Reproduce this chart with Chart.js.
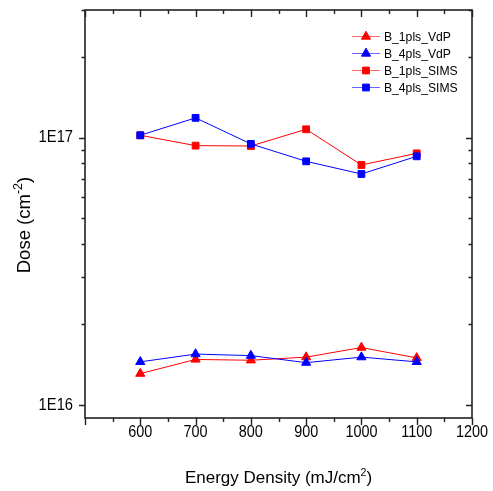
<!DOCTYPE html>
<html>
<head>
<meta charset="utf-8">
<script src="https://cdn.jsdelivr.net/npm/chart.js@4.4.1/dist/chart.umd.min.js"></script>
<style>
  html, body { margin: 0; padding: 0; background: #fff; }
</style>
</head>
<body>
<canvas id="doseChart" width="493" height="491"></canvas>
<script>
// data
const energy = [600, 700, 800, 900, 1000, 1100];
const vdp1pls = [1.31e16, 1.48e16, 1.47e16, 1.51e16, 1.64e16, 1.50e16];
const vdp4pls = [1.45e16, 1.55e16, 1.53e16, 1.44e16, 1.51e16, 1.45e16];
const sims1pls = [1.02e17, 0.933e17, 0.93e17, 1.074e17, 0.79e17, 0.873e17];
const sims4pls = [1.02e17, 1.185e17, 0.947e17, 0.815e17, 0.731e17, 0.851e17];

const xTicks = [500, 550, 600, 650, 700, 750, 800, 850, 900, 950, 1000, 1050, 1100, 1150, 1200];
const xLabels = [600, 700, 800, 900, 1000, 1100, 1200];
const yTicks = [1e16, 2e16, 3e16, 4e16, 5e16, 6e16, 7e16, 8e16, 9e16, 1e17, 2e17, 3e17];
const yMajor = [1e16, 1e17];
const yLabels = ["1E16", "1E17"];

const FONT = "'Liberation Sans', Arial, sans-serif";
const RED = "#ff0000";
const BLUE = "#0000ff";

function toPoints(vals) {
    return energy.map((e, i) => ({ x: e, y: vals[i] }));
}

function makeSet(label, vals, color, style, order) {
    return {
        label: label,
        data: toPoints(vals),
        borderColor: color,
        backgroundColor: color,
        borderWidth: 1,
        pointStyle: style,
        pointRadius: style === "triangle" ? 5.3 : 4.8,
        pointBorderWidth: 1,
        pointBorderColor: color,
        pointBackgroundColor: color,
        tension: 0,
        order: order
    };
}

// text squeezed a little horizontally, like the original export
function condText(ctx, text, x, y, size, sx, align, baseline) {
    ctx.save();
    ctx.font = size + "px " + FONT;
    ctx.textAlign = align;
    ctx.textBaseline = baseline;
    ctx.translate(x, y);
    ctx.scale(sx, 1);
    ctx.fillText(text, 0, 0);
    ctx.restore();
}

// draw text with a superscript part
function drawRich(ctx, parts, x, y, size, supRatio) {
    const small = size * supRatio;
    let total = 0;
    parts.forEach(p => {
        ctx.font = (p[1] ? small : size) + "px " + FONT;
        total += ctx.measureText(p[0]).width;
    });
    let cx = x - total / 2;
    ctx.textAlign = "left";
    ctx.textBaseline = "alphabetic";
    parts.forEach(p => {
        ctx.font = (p[1] ? small : size) + "px " + FONT;
        ctx.fillText(p[0], cx, p[1] ? y - size * 0.42 : y);
        cx += ctx.measureText(p[0]).width;
    });
}

const framePlugin = {
    id: "frame",
    afterDraw(chart) {
        const ctx = chart.ctx;
        const { left, right, top, bottom } = chart.chartArea;
        const xs = chart.scales.x;
        const ys = chart.scales.y;
        ctx.save();
        ctx.strokeStyle = "#222";
        ctx.lineWidth = 1.6;
        ctx.strokeRect(left, top, right - left, bottom - top);

        ctx.lineWidth = 1.4;
        ctx.beginPath();
        xTicks.forEach(v => {
            const px = Math.round(xs.getPixelForValue(v)) + 0.5;
            const major = v % 100 === 0;
            const len = major ? 7 : 4;
            ctx.moveTo(px, bottom);
            ctx.lineTo(px, bottom + len);
            ctx.moveTo(px, top);
            ctx.lineTo(px, top + len);
        });
        yTicks.forEach(v => {
            const py = Math.round(ys.getPixelForValue(v)) + 0.5;
            const major = yMajor.includes(v);
            const len = major ? 6 : 3.5;
            ctx.moveTo(left, py);
            ctx.lineTo(left - len, py);
            ctx.moveTo(right, py);
            ctx.lineTo(right - len, py);
        });
        ctx.stroke();

        // tick labels
        ctx.fillStyle = "#000";
        xLabels.forEach(v => {
            condText(ctx, String(v), xs.getPixelForValue(v), 437, 16, 0.9, "center", "alphabetic");
        });
        yMajor.forEach((v, i) => {
            condText(ctx, yLabels[i], left - 12, ys.getPixelForValue(v) + 0.5, 16, 0.92, "right", "middle");
        });

        // axis titles
        drawRich(ctx, [["Energy Density (mJ/cm", false], ["2", true], [")", false]], (left + right) / 2, 483, 17, 0.62);
        ctx.save();
        ctx.translate(30, 225);
        ctx.rotate(-Math.PI / 2);
        drawRich(ctx, [["Dose (cm", false], ["-2", true], [")", false]], 0, 0, 18.5, 0.68);
        ctx.restore();

        // legend: line sample with marker, then label
        const rowY = [36.5, 53.5, 70.5, 87.5];
        chart.data.datasets.forEach((ds, i) => {
            const y = rowY[i];
            ctx.strokeStyle = ds.borderColor;
            ctx.globalAlpha = 0.6;
            ctx.lineWidth = 1;
            ctx.beginPath();
            ctx.moveTo(352, y);
            ctx.lineTo(380, y);
            ctx.stroke();
            ctx.globalAlpha = 1;
            ctx.fillStyle = ds.borderColor;
            Chart.helpers.drawPoint(ctx, {
                pointStyle: ds.pointStyle,
                radius: ds.pointRadius,
                rotation: 0,
                borderWidth: 1
            }, 366, y);
            ctx.fillStyle = "#000";
            condText(ctx, ds.label, 384, y + 0.5, 13.5, 0.9, "left", "middle");
        });
        ctx.restore();
    }
};

const chart = new Chart(document.getElementById("doseChart"), {
    type: "line",
    data: {
        datasets: [
            makeSet("B_1pls_VdP", vdp1pls, RED, "triangle", 1),
            makeSet("B_4pls_VdP", vdp4pls, BLUE, "triangle", 0),
            makeSet("B_1pls_SIMS", sims1pls, RED, "rect", 1),
            makeSet("B_4pls_SIMS", sims4pls, BLUE, "rect", 0)
        ]
    },
    options: {
        responsive: false,
        animation: false,
        devicePixelRatio: 1,
        layout: { padding: { top: 10, right: 21, left: 0, bottom: 0 } },
        plugins: {
            legend: { display: false },
            tooltip: { enabled: false }
        },
        scales: {
            x: {
                type: "linear",
                min: 500,
                max: 1200,
                grid: { display: false },
                border: { display: false },
                ticks: { display: false },
                afterBuildTicks: s => { s.ticks = xTicks.map(v => ({ value: v })); },
                afterFit: s => { s.height = 73; }
            },
            y: {
                type: "logarithmic",
                min: 8.94e15,
                max: 3e17,
                grid: { display: false },
                border: { display: false },
                ticks: { display: false },
                afterBuildTicks: s => { s.ticks = yTicks.map(v => ({ value: v })); },
                afterFit: s => { s.width = 85; }
            }
        }
    },
    plugins: [framePlugin]
});
</script>
</body>
</html>
